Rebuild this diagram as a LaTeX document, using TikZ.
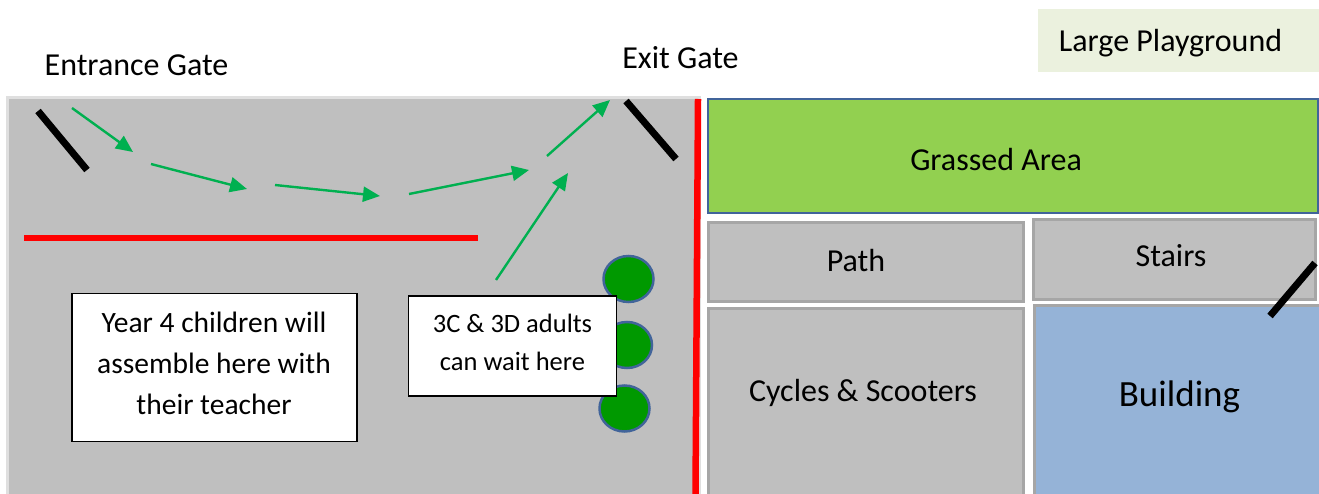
\documentclass[tikz,border=0pt]{standalone}
\usepackage{fontspec}
\setmainfont{Carlito}
\usetikzlibrary{arrows.meta,shapes.geometric}
\definecolor{yardgrey}{HTML}{BFBFBF}
\definecolor{yardedge}{HTML}{DFDFDF}
\definecolor{boxedge}{HTML}{A6A6A6}
\definecolor{grass}{HTML}{92D050}
\definecolor{blueedge}{HTML}{41649A}
\definecolor{building}{HTML}{95B3D7}
\definecolor{pale}{HTML}{EBF1DE}
\definecolor{arrowgreen}{HTML}{00B050}
\definecolor{treegreen}{HTML}{009900}
\newcommand{\fs}[1]{\fontsize{#1}{#1}\selectfont}
\tikzset{
  x=1pt,y=-1pt,
  area/.style={draw=boxedge,line width=3pt,fill=yardgrey,inner sep=0pt,outer sep=0pt,text=black},
  plain/.style={inner sep=0pt,outer sep=0pt,text=black},
  label/.style={draw=black,line width=1.2pt,fill=white,inner sep=0pt,outer sep=0pt,align=center,text=black},
  labeltext/.style={inner sep=0pt,outer sep=0pt,align=center,text=black},
  tree/.style={ellipse,draw=blueedge,line width=2.5pt,fill=treegreen,inner sep=0pt,outer sep=0pt},
  route/.style={draw=arrowgreen,line width=2.4pt,-{Triangle[length=17pt,width=15pt]}},
  gate/.style={draw=black,line width=7pt},
  barrier/.style={draw=red,line width=6.5pt},
}
\begin{document}
\begin{tikzpicture}
\useasboundingbox (0,0) rectangle (1319,494);
\fill[white] (0,0) rectangle (1319,494);
% yard
\node[plain,draw=yardedge,line width=3pt,fill=yardgrey,minimum width=692pt,minimum height=400pt] (yard) at (353,297.5) {};
% right-hand blocks
\node[plain,draw=blueedge,line width=2.5pt,fill=grass,minimum width=610pt,minimum height=114pt] (grassed) at (1013,156) {};
\node[plain,font=\fs{32}] (grassedtext) at (996,160) {Grassed Area};
\node[area,minimum width=315pt,minimum height=78pt] (path) at (865.5,262) {};
\node[plain,font=\fs{32}] (pathtext) at (856,261) {Path};
\node[area,minimum width=282pt,minimum height=79pt] (stairs) at (1174,259.5) {};
\node[plain,font=\fs{32}] (stairstext) at (1171,256) {Stairs};
\node[area,minimum width=315pt,minimum height=190pt] (cycles) at (865.5,403) {};
\node[plain,font=\fs{32}] (cyclestext) at (863,393) {Cycles \& Scooters};
\node[area,fill=building,minimum width=286pt,minimum height=192pt] (bldg) at (1177,401.5) {};
\node[plain,font=\fs{37}] (bldgtext) at (1179.5,397) {Building};
% playground
\node[plain,fill=pale,minimum width=281pt,minimum height=63pt] (play) at (1178.5,40.5) {};
\node[plain,font=\fs{32}] (playtext) at (1170.5,43) {Large Playground};
% gate captions
\node[plain,font=\fs{32}] (entrance) at (136.5,65) {Entrance Gate};
\node[plain,font=\fs{32}] (exit) at (680.5,58) {Exit Gate};
% trees
\node[tree,minimum width=50pt,minimum height=46pt] (t1) at (628.5,279) {};
\node[tree,minimum width=50pt,minimum height=46pt] (t2) at (627,345) {};
\node[tree,minimum width=50pt,minimum height=46pt] (t3) at (624.5,408.5) {};
% labels
\node[label,minimum width=285pt,minimum height=148pt] (year4) at (214.5,367.5) {};
\node[labeltext,font=\fs{29.5}] (year4text) at (214,363.5) {Year 4 children will\\[11.5pt]assemble here with\\[11.5pt]their teacher};
\node[label,minimum width=208pt,minimum height=100pt] (adults) at (512.5,346) {};
\node[labeltext,font=\fs{26.5}] (adultstext) at (512.5,342.5) {3C \& 3D adults\\[11pt]can wait here};
% barriers
\coordinate (ba) at (24,238); \coordinate (bb) at (478,238);
\coordinate (bc) at (698,99); \coordinate (bd) at (695.5,494);
\draw[barrier] (ba) -- (bb);
\draw[barrier] (bc) -- (bd);
% gates
\coordinate (g1a) at (38,111); \coordinate (g1b) at (87,170);
\coordinate (g2a) at (626,101); \coordinate (g2b) at (676,159);
\coordinate (g3a) at (1315,263); \coordinate (g3b) at (1270,316);
\draw[gate] (g1a) -- (g1b);
\draw[gate] (g2a) -- (g2b);
\draw[gate] (g3a) -- (g3b);
% route arrows
\coordinate (r1a) at (72,108); \coordinate (r1b) at (133,152);
\coordinate (r2a) at (151,164); \coordinate (r2b) at (247,189);
\coordinate (r3a) at (275,185); \coordinate (r3b) at (380,196);
\coordinate (r4a) at (409,194); \coordinate (r4b) at (529,170);
\coordinate (r5a) at (547,156); \coordinate (r5b) at (610,100);
\coordinate (r6a) at (496,280); \coordinate (r6b) at (568,173);
\draw[route] (r1a) -- (r1b);
\draw[route] (r2a) -- (r2b);
\draw[route] (r3a) -- (r3b);
\draw[route] (r4a) -- (r4b);
\draw[route] (r5a) -- (r5b);
\draw[route] (r6a) -- (r6b);
\end{tikzpicture}
\end{document}
